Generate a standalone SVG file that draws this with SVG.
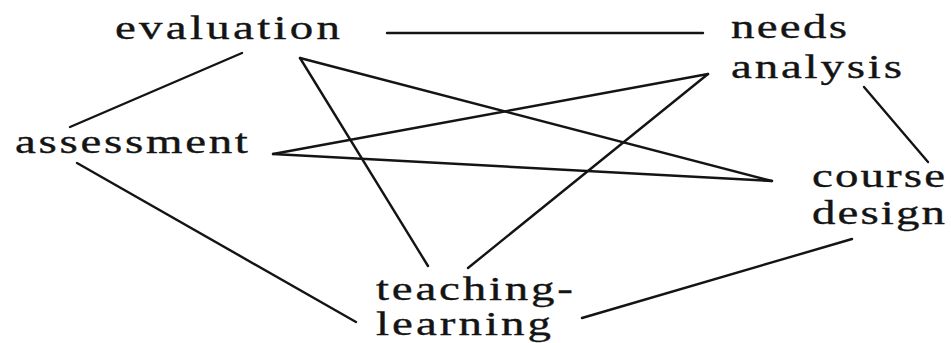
<svg xmlns="http://www.w3.org/2000/svg" width="951" height="343" viewBox="0 0 951 343">
<style>
.lbl{font-family:"Liberation Serif","Times New Roman",serif;font-size:33px;fill:#141414;stroke:#141414;stroke-width:0.35;}
.c line{stroke:#141414;stroke-width:2.4;stroke-linecap:round;fill:none;}
</style>
<rect width="951" height="343" fill="#ffffff"/>
<g id="connectors" class="c">
<line x1="387" y1="33" x2="703" y2="33"/>
<line x1="242" y1="53" x2="70" y2="127"/>
<line x1="300" y1="58" x2="772" y2="181"/>
<line x1="300" y1="58" x2="428" y2="266"/>
<line x1="273" y1="154" x2="708" y2="74"/>
<line x1="273" y1="154" x2="772" y2="181"/>
<line x1="708" y1="74" x2="468" y2="268"/>
<line x1="864" y1="87" x2="928" y2="162"/>
<line x1="852" y1="239" x2="582" y2="318"/>
<line x1="77" y1="163" x2="356" y2="322"/>
</g>
<g id="evaluation"><text class="lbl" transform="translate(115,39) scale(1.42,1)" textLength="158.5" lengthAdjust="spacing">evaluation</text></g>
<g id="needs-analysis">
<text class="lbl" transform="translate(731,38) scale(1.42,1)" textLength="81.7" lengthAdjust="spacing">needs</text>
<text class="lbl" transform="translate(731,78) scale(1.42,1)" textLength="120.4" lengthAdjust="spacing">analysis</text>
</g>
<g id="assessment"><text class="lbl" transform="translate(15,153) scale(1.42,1)" textLength="164" lengthAdjust="spacing">assessment</text></g>
<g id="course-design">
<text class="lbl" transform="translate(812,187) scale(1.42,1)" textLength="93.7" lengthAdjust="spacing">course</text>
<text class="lbl" transform="translate(812,224) scale(1.42,1)" textLength="93.7" lengthAdjust="spacing">design</text>
</g>
<g id="teaching-learning">
<text class="lbl" transform="translate(376,300) scale(1.42,1)" textLength="138.7" lengthAdjust="spacing">teaching-</text>
<text class="lbl" transform="translate(376,335) scale(1.42,1)" textLength="123.2" lengthAdjust="spacing">learning</text>
</g>
</svg>
